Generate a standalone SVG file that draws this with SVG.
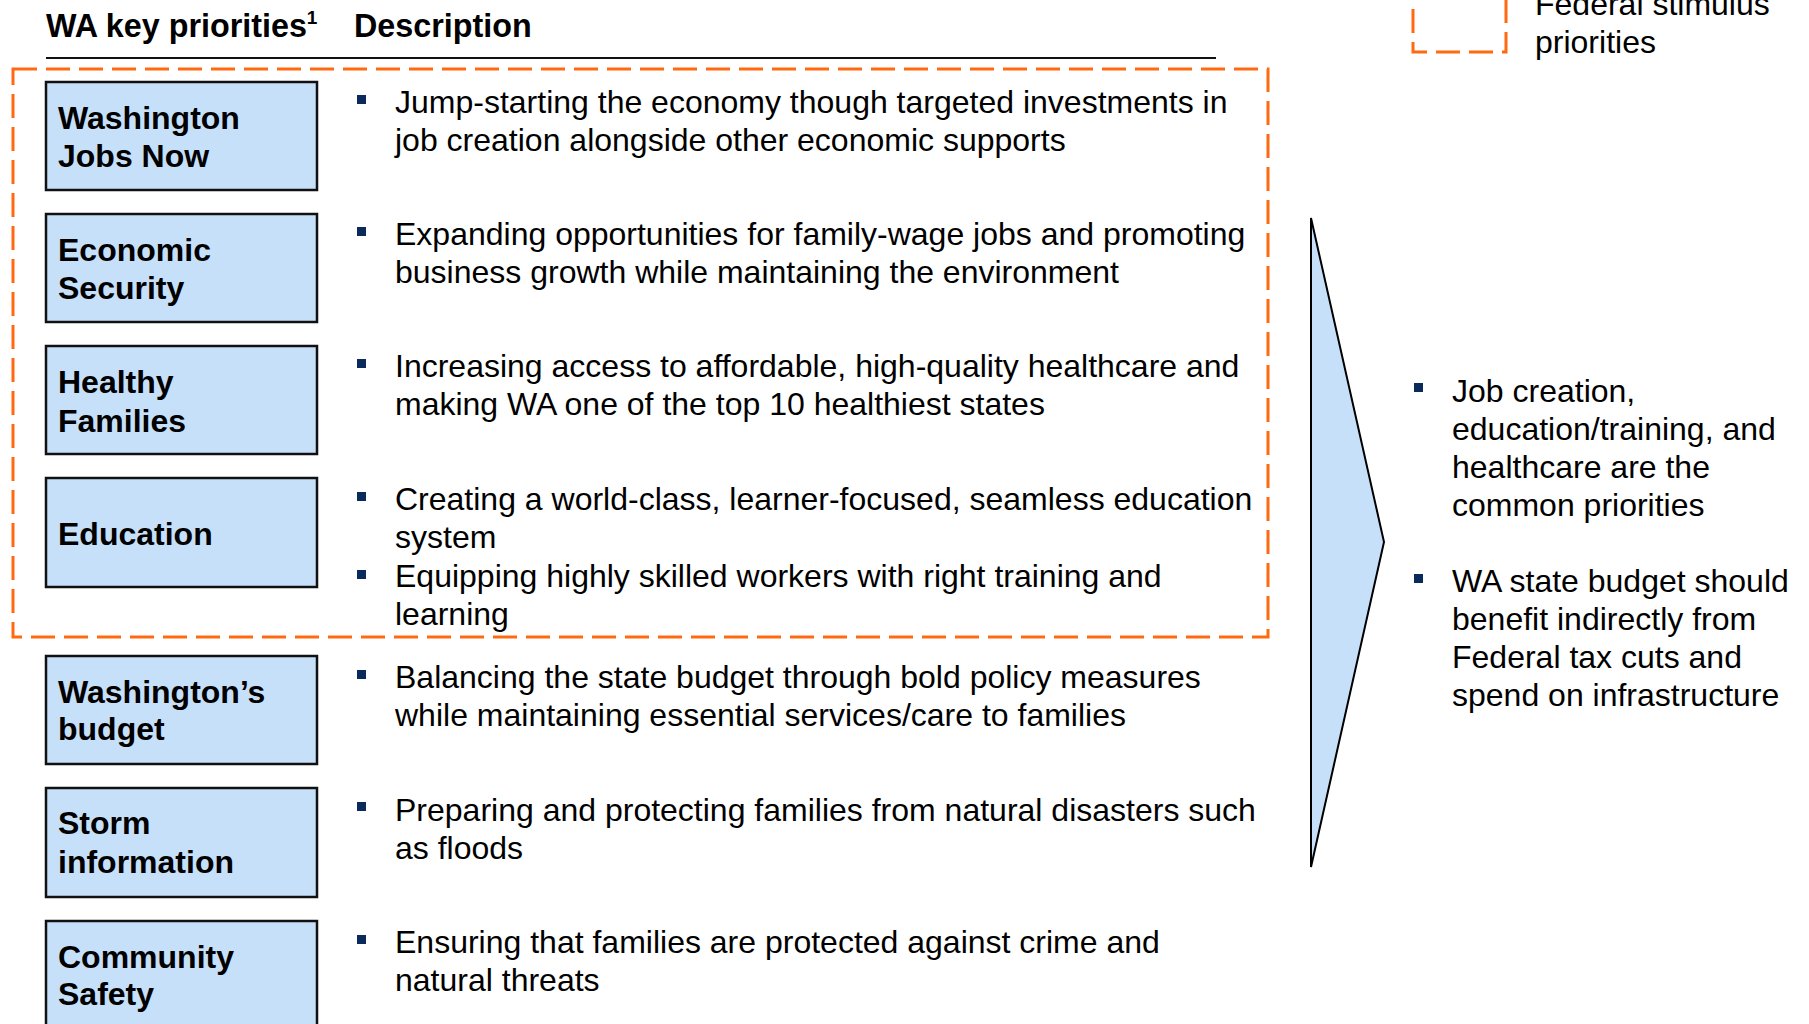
<svg xmlns="http://www.w3.org/2000/svg" width="1809" height="1024" viewBox="0 0 1809 1024">
<style>
text{font-family:"Liberation Sans",Arial,sans-serif;fill:#000}
.h{font-size:32.3px;font-weight:bold}
.lbl{font-size:32px;font-weight:bold}
.d{font-size:32px}
.box{fill:#C6E0FA;stroke:#111;stroke-width:2.5}
.dash{fill:none;stroke:#FF6A10;stroke-width:3;stroke-dasharray:24 9}
.bul{fill:#0B2A5C}
.chev{fill:#C6E0FA;stroke:#000;stroke-width:2}
</style>
<rect width="1809" height="1024" fill="#fff"/>
<g id="header">
<text class="h" x="46" y="37">WA key priorities<tspan font-size="19" dy="-13">1</tspan></text>
<text class="h" x="354" y="37">Description</text>
<line x1="46" y1="58" x2="1216" y2="58" stroke="#111" stroke-width="2"/>
</g>
<g id="legend">
<rect class="dash" x="1413" y="-40" width="93" height="92"/>
<text class="d" x="1535" y="15">Federal stimulus</text>
<text class="d" x="1535" y="53">priorities</text>
</g>
<g id="stimulus-group">
<rect class="dash" x="13" y="69" width="1255" height="568"/>
</g>
<g id="row1">
<rect class="box" x="46" y="82" width="271" height="108"/>
<text class="lbl" x="58" y="129">Washington</text>
<text class="lbl" x="58" y="167">Jobs Now</text>
<rect class="bul" x="357" y="95" width="9" height="9"/>
<text class="d" x="395" y="113">Jump-starting the economy though targeted investments in</text>
<text class="d" x="395" y="151">job creation alongside other economic supports</text>
</g>
<g id="row2">
<rect class="box" x="46" y="214" width="271" height="108"/>
<text class="lbl" x="58" y="261">Economic</text>
<text class="lbl" x="58" y="299">Security</text>
<rect class="bul" x="357" y="227" width="9" height="9"/>
<text class="d" x="395" y="245">Expanding opportunities for family-wage jobs and promoting</text>
<text class="d" x="395" y="283">business growth while maintaining the environment</text>
</g>
<g id="row3">
<rect class="box" x="46" y="346" width="271" height="108"/>
<text class="lbl" x="58" y="393">Healthy</text>
<text class="lbl" x="58" y="432">Families</text>
<rect class="bul" x="357" y="359" width="9" height="9"/>
<text class="d" x="395" y="377">Increasing access to affordable, high-quality healthcare and</text>
<text class="d" x="395" y="415">making WA one of the top 10 healthiest states</text>
</g>
<g id="row4">
<rect class="box" x="46" y="478" width="271" height="109"/>
<text class="lbl" x="58" y="545">Education</text>
<rect class="bul" x="357" y="492" width="9" height="9"/>
<text class="d" x="395" y="510">Creating a world-class, learner-focused, seamless education</text>
<text class="d" x="395" y="548">system</text>
<rect class="bul" x="357" y="570" width="9" height="9"/>
<text class="d" x="395" y="587">Equipping highly skilled workers with right training and</text>
<text class="d" x="395" y="625">learning</text>
</g>
<g id="row5">
<rect class="box" x="46" y="656" width="271" height="108"/>
<text class="lbl" x="58" y="703">Washington’s</text>
<text class="lbl" x="58" y="740">budget</text>
<rect class="bul" x="357" y="670" width="9" height="9"/>
<text class="d" x="395" y="688">Balancing the state budget through bold policy measures</text>
<text class="d" x="395" y="726">while maintaining essential services/care to families</text>
</g>
<g id="row6">
<rect class="box" x="46" y="788" width="271" height="109"/>
<text class="lbl" x="58" y="834">Storm</text>
<text class="lbl" x="58" y="873">information</text>
<rect class="bul" x="357" y="802" width="9" height="9"/>
<text class="d" x="395" y="821">Preparing and protecting families from natural disasters such</text>
<text class="d" x="395" y="859">as floods</text>
</g>
<g id="row7">
<rect class="box" x="46" y="921" width="271" height="120"/>
<text class="lbl" x="58" y="968">Community</text>
<text class="lbl" x="58" y="1005">Safety</text>
<rect class="bul" x="357" y="935" width="9" height="9"/>
<text class="d" x="395" y="953">Ensuring that families are protected against crime and</text>
<text class="d" x="395" y="991">natural threats</text>
</g>
<g id="connectors">
<polygon class="chev" points="1311,218 1384,542 1311,867"/>
</g>
<g id="conclusion">
<rect class="bul" x="1414" y="383" width="9" height="9"/>
<text class="d" x="1452" y="402">Job creation,</text>
<text class="d" x="1452" y="440">education/training, and</text>
<text class="d" x="1452" y="478">healthcare are the</text>
<text class="d" x="1452" y="516">common priorities</text>
<rect class="bul" x="1414" y="574" width="9" height="9"/>
<text class="d" x="1452" y="592">WA state budget should</text>
<text class="d" x="1452" y="630">benefit indirectly from</text>
<text class="d" x="1452" y="668">Federal tax cuts and</text>
<text class="d" x="1452" y="706">spend on infrastructure</text>
</g>
</svg>
